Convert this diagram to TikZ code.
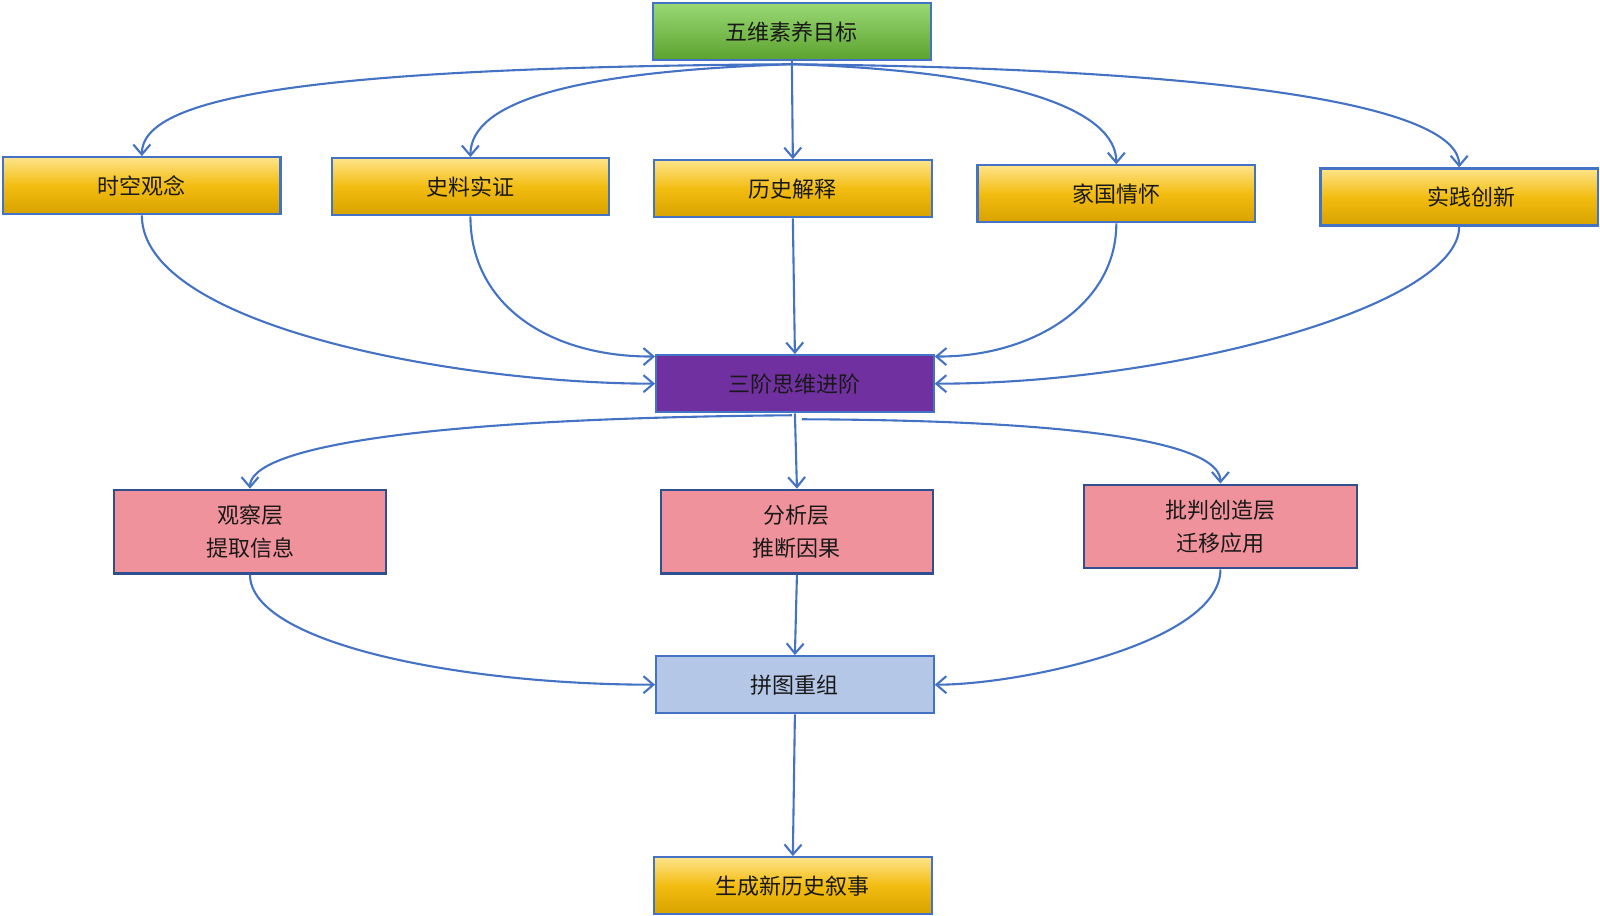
\documentclass[tikz,border=0pt]{standalone}
\usepackage{fontspec}
\setmainfont{Noto Sans CJK SC}
\usetikzlibrary{arrows.meta}
\definecolor{lineblue}{HTML}{4472C4}
\definecolor{darkblue}{HTML}{2F4F8F}
\definecolor{gtop}{HTML}{9AD874}
\definecolor{gbot}{HTML}{5AA22E}
\definecolor{ytop}{HTML}{FFE48A}
\definecolor{ymid}{HTML}{F2BC10}
\definecolor{ybot}{HTML}{D8A200}
\definecolor{purp}{HTML}{7030A0}
\definecolor{pinkf}{HTML}{EF929B}
\definecolor{lblue}{HTML}{B4C7E7}
\begin{document}
\begin{tikzpicture}[x=1.0204pt,y=-1.0204pt,
  box/.style={draw=lineblue,line width=2.2pt,minimum width=277.5pt,minimum height=57pt,inner sep=0pt,
     font=\fontsize{22}{26}\selectfont,text=black!90},
  ybox/.style={box,top color=ytop,bottom color=ybot,middle color=ymid},
  gbox/.style={box,top color=gtop,bottom color=gbot},
  pbox/.style={box,draw=darkblue,fill=pinkf,minimum width=272.5pt,minimum height=83.7pt,align=center,
     font=\fontsize{22}{33}\selectfont},
  conn/.style={draw=lineblue,line width=2.1pt,-{Straight Barb[length=10pt,width=17pt,line width=2.1pt]}}]
\useasboundingbox (0,0) rectangle (1568,897);
\node[gbox] (wu) at (776,31) {五维素养目标};
\node[ybox] (sk) at (139,182) {时空观念};
\node[ybox] (sl) at (461,183) {史料实证};
\node[ybox] (ls) at (777,185) {历史解释};
\node[ybox] (jg) at (1094,190) {家国情怀};
\node[ybox] (sj) at (1430,193) {\hspace*{24pt}实践创新};
\node[box,fill=purp] (sa) at (779,376) {三阶思维进阶};
\node[pbox] (gc) at (245,521) {观察层\\提取信息};
\node[pbox] (fx) at (781,521) {分析层\\推断因果};
\node[pbox] (pp) at (1196,516) {批判创造层\\迁移应用};
\node[box,fill=lblue] (pt) at (779,671) {拼图重组};
\node[ybox] (sc) at (777,868) {生成新历史叙事};

\draw[conn] ([yshift=-3pt]wu.south) .. controls (300,66) and (139,95) .. (sk.north);
\draw[conn] ([yshift=-3pt]wu.south) .. controls (560,70) and (461,100) .. (sl.north);
\draw[conn] (wu.south) -- (ls.north);
\draw[conn] ([yshift=-3pt]wu.south) .. controls (1000,70) and (1094,110) .. (jg.north);
\draw[conn] ([yshift=-3pt]wu.south) .. controls (1250,68) and (1430,110) .. (sj.north);

\draw[conn] (sk.south) .. controls (139,320) and (450,376) .. (sa.west);
\draw[conn] (sl.south) .. controls (461,300) and (540,350) .. (sa.169);
\draw[conn] (ls.south) -- (sa.north);
\draw[conn] (jg.south) .. controls (1094,300) and (1010,350) .. (sa.11);
\draw[conn] (sj.south) .. controls (1430,300) and (1150,376) .. (sa.east);

\draw[conn] ([xshift=-3pt,yshift=-2pt]sa.south) .. controls (400,410) and (245,440) .. (gc.north);
\draw[conn] (sa.south) -- (fx.north);
\draw[conn] ([xshift=7pt,yshift=-6pt]sa.south) .. controls (1100,412) and (1196,440) .. (pp.north);

\draw[conn] (gc.south) .. controls (245,630) and (450,671) .. (pt.west);
\draw[conn] (fx.south) -- (pt.north);
\draw[conn] (pp.south) .. controls (1196,630) and (1000,671) .. (pt.east);
\draw[conn] (pt.south) -- (sc.north);
\end{tikzpicture}
\end{document}
